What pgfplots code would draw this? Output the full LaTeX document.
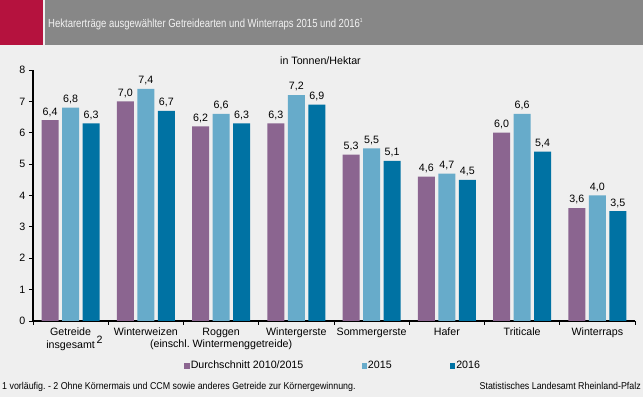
\documentclass[border=0pt]{standalone}
\usepackage{pgfplots}
\pgfplotsset{compat=1.18}
\usepackage{fontspec}
\setmainfont{Liberation Sans}
\newfontfamily\titlefont[FakeStretch=0.81]{Liberation Sans}
\newfontfamily\footfont[FakeStretch=0.89]{Liberation Sans}
\definecolor{bgc}{HTML}{EFEFEF}
\definecolor{hdr}{HTML}{878787}
\definecolor{hred}{HTML}{B5123E}
\definecolor{cA}{HTML}{8B6590}
\definecolor{cB}{HTML}{67ABCA}
\definecolor{cC}{HTML}{0072A3}
\pgfplotsset{sq/.style={legend image code/.code={\fill[##1] (0bp,-2.6bp) rectangle (5.2bp,2.6bp);}}}
\frenchspacing
\begin{document}
\fontsize{10.7}{12.6}\selectfont
\begin{tikzpicture}
\fill[bgc] (0bp,0bp) rectangle (643bp,397bp);
\fill[hred] (0bp,352.3bp) rectangle (42.7bp,397bp);
\fill[hdr] (44.7bp,352.3bp) rectangle (643bp,397bp);
\node[anchor=base west, inner sep=0pt, text=white!95!black, font=\titlefont\fontsize{11.8}{13}\selectfont] at (48bp,369.7bp) {Hektarerträge ausgewählter Getreidearten und Winterraps 2015 und 2016\textsuperscript{\fontsize{6}{7}\selectfont 1}};
\node[anchor=base, inner sep=0pt] at (320.5bp,332bp) {in Tonnen/Hektar};
\node[anchor=base west, inner sep=0pt, font=\footfont\fontsize{10}{12}\selectfont] at (2bp,8bp) {1 vorläufig. - 2 Ohne Körnermais und CCM sowie anderes Getreide zur Körnergewinnung.};
\node[anchor=base east, inner sep=0pt, font=\footfont\fontsize{10}{12}\selectfont] at (641bp,8bp) {Statistisches Landesamt Rheinland-Pfalz};
\begin{axis}[
  at={(33bp,76bp)}, anchor=south west,
  width=602bp, height=251bp, scale only axis,
  xmin=-0.5, xmax=7.5, ymin=0, ymax=8,
  ybar=3.5bp, bar width=17bp,
  axis x line*=bottom, axis y line*=left,
  axis line style={black, line width=1.3bp},
  xtick={0,...,7},
  xticklabels={{Getreide\\insgesamt\rlap{\,\raisebox{5bp}{2}}}, Winterweizen, {Roggen\\(einschl.\ Wintermenggetreide)}, Wintergerste, Sommergerste, Hafer, Triticale, Winterraps},
  xticklabel style={align=center, text=black, yshift=1bp},
  major x tick style={draw=none},
  minor xtick={-0.5,0.5,...,7.5},
  ytick={0,...,8},
  tick align=outside,
  major tick length=4bp, minor tick length=4bp,
  tick style={black, line width=0.9bp},
  yticklabel style={text=black, /pgf/number format/fixed zerofill=false, /pgf/number format/precision=0},
  nodes near coords,
  nodes near coords style={text=black},
  /pgf/number format/.cd, use comma, fixed, fixed zerofill, precision=1, assume math mode=true,
  /pgfplots/.cd,
  legend style={at={(0.498,-0.179)}, anchor=center, draw=none, fill=none,
    legend columns=3, /tikz/every even column/.append style={column sep=57bp},
    inner sep=0pt, nodes={inner sep=1.2bp}},
]
\addplot[fill=cA, draw=none, sq] coordinates {(0,6.4) (1,7.0) (2,6.2) (3,6.3) (4,5.3) (5,4.6) (6,6.0) (7,3.6)};
\addlegendentry{Durchschnitt 2010/2015}
\addplot[fill=cB, draw=none, sq] coordinates {(0,6.8) (1,7.4) (2,6.6) (3,7.2) (4,5.5) (5,4.7) (6,6.6) (7,4.0)};
\addlegendentry{2015}
\addplot[fill=cC, draw=none, sq] coordinates {(0,6.3) (1,6.7) (2,6.3) (3,6.9) (4,5.1) (5,4.5) (6,5.4) (7,3.5)};
\addlegendentry{2016}
\end{axis}
\end{tikzpicture}
\end{document}
